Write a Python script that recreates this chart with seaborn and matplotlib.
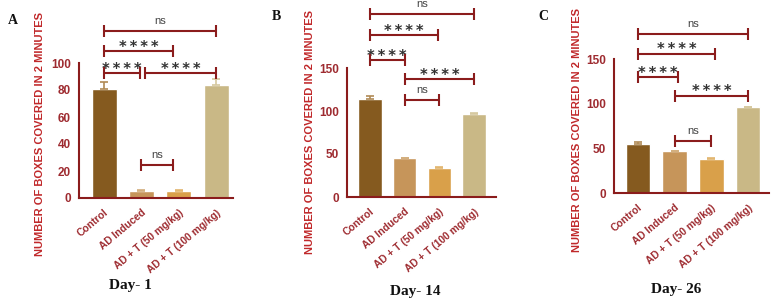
import matplotlib
matplotlib.use("Agg")
import matplotlib.pyplot as plt
import seaborn as sns
import pandas as pd
import numpy as np

sns.set_style("white")
plt.rcParams['font.family'] = ['Liberation Sans', 'DejaVu Sans']

# ---------------- data ----------------
groups = ["Control", "AD Induced", "AD + T (50 mg/kg)", "AD + T (100 mg/kg)"]
day1_values = [81, 5, 5, 84]
day1_err = [5, 0.6, 0.6, 4]
day14_values = [114, 45, 34, 97]
day14_err = [3, 0.5, 0.5, 0.5]
day26_values = [55, 47, 38, 96]
day26_err = [2, 0.5, 1, 0.5]
panel_titles = ["Day- 1", "Day- 14", "Day- 26"]
panel_letters = ["A", "B", "C"]
y_ticks = [[0, 20, 40, 60, 80, 100], [0, 50, 100, 150], [0, 50, 100, 150]]
# significance: (from group, to group, label)
day1_sig = [(0, 3, "ns"), (0, 1.85, "****"), (0, 0.95, "****"), (1.1, 3, "****"), (1, 1.85, "ns")]
day14_sig = [(0, 3, "ns"), (0, 1.97, "****"), (0, 1.0, "****"), (1, 3, "****"), (1, 2, "ns")]
day26_sig = [(0, 3, "ns"), (0, 2.1, "****"), (0, 1.1, "****"), (1, 3, "****"), (1, 2, "ns")]

# ---------------- layout / style ----------------
colors = ["#855a1f", "#c6955a", "#d9a04a", "#c9b886"]
err_colors = ["#b08a55", "#d2ad7c", "#e2b56e", "#d6c89e"]
axis_red = "#8b1c1c"
label_red = "#c0282a"
tick_red = "#9e2b30"

axes_rect = [
    [79 / 776, 1 - 198 / 303, 154 / 776, 135 / 303],
    [347 / 776, 1 - 197 / 303, 149 / 776, 129 / 303],
    [614 / 776, 1 - 193 / 303, 155 / 776, 134 / 303],
]
xlims = [(-0.67, 3.45), (-0.66, 3.63), (-0.65, 3.57)]
ylims = [(0, 100), (0, 150), (0, 150)]
bracket_heights = [[124, 109, 92.6, 92.6, 24.4],
                   [213, 188, 159, 137, 113],
                   [178, 156, 130, 109, 58]]
title_pos = [(130 / 776, 1 - 285 / 303), (415 / 776, 1 - 292 / 303), (676 / 776, 1 - 290 / 303)]
letter_pos = [(8 / 776, 1 - 20 / 303), (272 / 776, 1 - 16 / 303), (538 / 776, 1 - 16 / 303)]
ylabel_pos = [(40 / 776, 1 - 134 / 303), (310 / 776, 1 - 132 / 303), (577 / 776, 1 - 130 / 303)]

fig = plt.figure(figsize=(7.76, 3.03), dpi=100)

values_all = [day1_values, day14_values, day26_values]
err_all = [day1_err, day14_err, day26_err]
sig_all = [day1_sig, day14_sig, day26_sig]

for k in range(3):
    ax = fig.add_axes(axes_rect[k])
    df = pd.DataFrame({"group": groups, "value": values_all[k]})
    sns.barplot(data=df, x="group", y="value", hue="group", palette=colors,
                legend=False, width=0.67, ax=ax, saturation=1, errorbar=None)
    xs = np.arange(len(groups))
    for i in range(len(groups)):
        ax.errorbar(xs[i], values_all[k][i], yerr=[[0], [err_all[k][i]]],
                    fmt="none", ecolor=err_colors[i], elinewidth=1.2, capsize=3,
                    capthick=1.2, zorder=1)
    ax.set_xlim(*xlims[k])
    ax.set_ylim(*ylims[k])
    ax.set_yticks(y_ticks[k])
    ax.set_xlabel("")
    ax.set_ylabel("")
    for s in ["top", "right"]:
        ax.spines[s].set_visible(False)
    for s in ["left", "bottom"]:
        ax.spines[s].set_color(axis_red)
        ax.spines[s].set_linewidth(1.5)
    ax.tick_params(axis="both", direction="out", length=4, width=1.3, color=axis_red)
    ax.tick_params(axis="y", labelsize=8.5, labelcolor=tick_red, pad=2)
    for t in ax.get_yticklabels():
        t.set_fontweight("bold")
    ax.set_xticks(xs)
    ax.set_xticklabels(groups, rotation=40, ha="right", rotation_mode="anchor",
                       fontsize=7.4, fontweight="bold", color=tick_red)
    ax.tick_params(axis="x", pad=3)

    # brackets
    for (a, b, lab), h in zip(sig_all[k], bracket_heights[k]):
        ax.plot([a, b], [h, h], color=axis_red, lw=1.5, marker="|", markersize=9,
                markeredgewidth=1.5, clip_on=False, zorder=5)
        if lab == "ns":
            ax.annotate(lab, xy=((a + b) / 2, h), xytext=(0, 3.5), textcoords="offset points",
                        ha="center", va="bottom", fontsize=8, color="#444444", annotation_clip=False)
        else:
            ax.annotate("\u2009".join(lab), xy=((a + b) / 2, h), xytext=(0, -0.5),
                        textcoords="offset points",
                        ha="center", va="baseline", fontsize=10.5, fontweight="bold",
                        family="DejaVu Sans", color="#333333", annotation_clip=False)

    fig.text(ylabel_pos[k][0], ylabel_pos[k][1],
             "NUMBER OF BOXES COVERED IN 2 MINUTES", rotation=90, ha="center", va="center",
             fontsize=8, fontweight="bold", color=label_red)
    fig.text(title_pos[k][0], title_pos[k][1], panel_titles[k], ha="center", va="center",
             fontsize=11, fontweight="bold", family="Liberation Serif", color="#111111")
    fig.text(letter_pos[k][0], letter_pos[k][1], panel_letters[k], ha="left", va="center",
             fontsize=10, fontweight="bold", family="Liberation Serif", color="#111111")

fig.savefig("out.png", dpi=100)
